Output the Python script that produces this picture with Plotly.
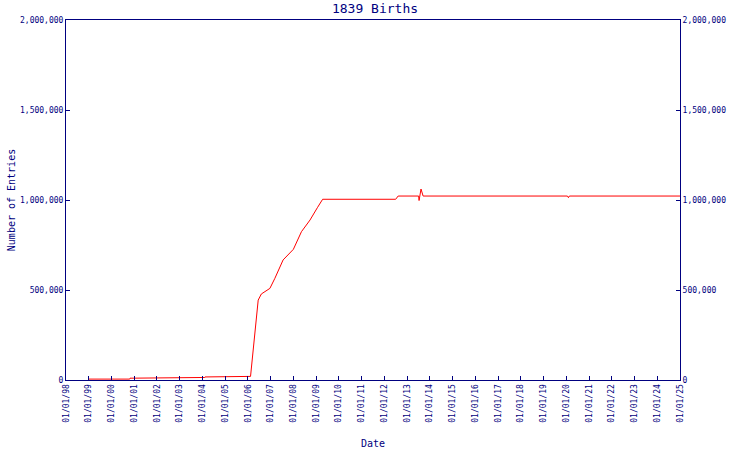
import plotly.graph_objects as go

# Data
dates = [
    "1999-01-01", "2000-10-20", "2000-10-25", "2003-01-01", "2003-01-05",
    "2004-02-08", "2004-02-12", "2006-01-03", "2006-01-07", "2006-02-12",
    "2006-06-15", "2006-08-05", "2006-12-20", "2007-03-10", "2007-07-20",
    "2008-01-01", "2008-05-10", "2008-09-25", "2009-01-20", "2009-04-15",
    "2012-07-01", "2012-08-10", "2013-07-05", "2013-07-12", "2013-08-12",
    "2013-09-15", "2020-01-20", "2020-02-05", "2020-02-20", "2025-01-01",
]
entries = [
    5000, 5000, 10000, 10000, 14000,
    14000, 17000, 17000, 20000, 20000,
    444000, 478000, 509000, 565000, 667000,
    726000, 824000, 889000, 957000, 1004000,
    1004000, 1022000, 1022000, 997000, 1061000,
    1022000, 1022000, 1013000, 1022000, 1022000,
]

title_text = "1839 Births"
x_title = "Date"
y_title = "Number of Entries"
y_ticks = [0, 500000, 1000000, 1500000, 2000000]

NAVY = "#000080"
FONT = "DejaVu Sans Mono"

fig = go.Figure()
fig.add_trace(go.Scatter(x=dates, y=entries, mode="lines",
                         line=dict(color="#ff0000", width=1),
                         showlegend=False))
fig.add_trace(go.Scatter(x=dates, y=entries, mode="lines", yaxis="y2",
                         line=dict(color="rgba(0,0,0,0)", width=0),
                         showlegend=False, hoverinfo="skip"))

axis_common = dict(
    showgrid=False, zeroline=False, showline=True, linecolor=NAVY, linewidth=1,
    ticks="inside", ticklen=4, tickcolor=NAVY, tickwidth=1, automargin=False,
    tickfont=dict(family=FONT, size=8, color=NAVY),
)

fig.update_layout(
    width=750, height=450,
    paper_bgcolor="white", plot_bgcolor="white",
    margin=dict(l=66, r=70, t=20, b=70),
    title=dict(text=title_text, x=0.5, xanchor="center", y=0.982, yanchor="middle",
               font=dict(family=FONT, size=13, color=NAVY)),
    xaxis=dict(
        **axis_common, type="date", range=["1998-01-01", "2025-01-01"],
        tick0="1998-01-01", dtick="M12", tickformat="%m/%d/%y", tickangle=-90,
        mirror=True,
        title=dict(text=x_title, font=dict(family=FONT, size=10, color=NAVY), standoff=18),
    ),
    yaxis=dict(
        **axis_common, range=[0, 2000000], tickvals=y_ticks, tickformat=",",
        title=dict(text=y_title, font=dict(family=FONT, size=10, color=NAVY), standoff=2),
    ),
    yaxis2=dict(
        **axis_common, range=[0, 2000000], tickvals=y_ticks, tickformat=",",
        overlaying="y", side="right",
    ),
)

fig.write_html("out.html", config={"displayModeBar": False},
               post_script="document.body.style.margin='0px';")
